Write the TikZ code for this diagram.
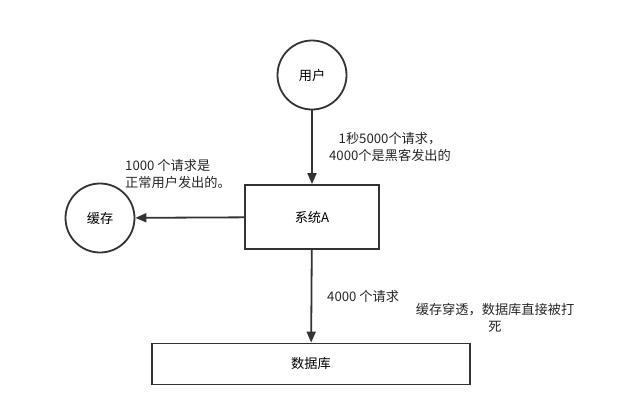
\documentclass[tikz,border=0pt]{standalone}
\usepackage{fontspec}
\setmainfont{Noto Sans CJK SC}
\usepackage{tikz}
\usetikzlibrary{arrows.meta}

\begin{document}
\begin{tikzpicture}[x=1pt,y=-1pt,
        box/.style={draw=black!80,line width=1.8pt,minimum width=#1,inner sep=0pt},
        ball/.style={draw=black!80,line width=1.8pt,circle,minimum size=69pt,inner sep=0pt},
        flow/.style={draw=black!80,line width=1.8pt,-{Triangle[length=11pt,width=9pt]}},
        note/.style={text=black!85,inner sep=0pt,align=left},
        font=\fontsize{13.2}{16.5}\selectfont]
        \useasboundingbox (0,0) rectangle (627,416);
        \node[ball] (user) at (312,75) {用户};
        \node[ball] (cache) at (100,218) {缓存};
        \node[box=134pt,minimum height=64pt] (sys) at (312,217) {系统A};
        \node[box=318pt,minimum height=41pt] (db) at (311,364) {数据库};
        \draw[flow] (user) -- (sys);
        \draw[flow] (sys) -- (cache);
        \draw[flow] (sys) -- (db);
        \node[note,align=center] (n1) at (390,147) {1秒5000个请求，\\4000个是黑客发出的};
        \node[note,anchor=west] (n2) at (125,174) {1000 个请求是\\正常用户发出的。};
        \node[note,anchor=west] (n3) at (327,296) {4000 个请求};
        \node[note,align=center] (n4) at (495,318) {缓存穿透，数据库直接被打\\死};
\end{tikzpicture}
\end{document}
